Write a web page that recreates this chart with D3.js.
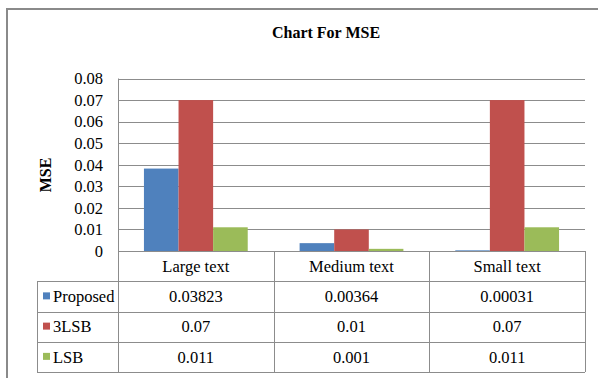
<!DOCTYPE html>
<style>
body { margin: 0; background: #fff; }
</style>
<svg width="598" height="378"></svg>
<script src="https://d3js.org/d3.v7.min.js"></script>
<script>
var categories = ["Large text", "Medium text", "Small text"];
var seriesNames = ["Proposed", "3LSB", "LSB"];
var proposed = [0.03823, 0.00364, 0.00031];
var lsb3 = [0.07, 0.01, 0.07];
var lsb = [0.011, 0.001, 0.011];
var yTicks = [0, 0.01, 0.02, 0.03, 0.04, 0.05, 0.06, 0.07, 0.08];

var colors = ["#4F81BD", "#C0504D", "#9BBB59"];
var values = [proposed, lsb3, lsb];

var svg = d3.select("svg");
var gridColor = "#8c8c8c";
var font = "Liberation Serif";
var fs = 16.5;

function label(parent) {
  return parent.append("text")
      .attr("font-family", font)
      .attr("font-size", fs)
      .attr("fill", "#000");
}

// outer chart border
svg.append("rect")
    .attr("x", 7).attr("y", 9)
    .attr("width", 610).attr("height", 390)
    .attr("fill", "none")
    .attr("stroke", "#8a8a8a")
    .attr("stroke-width", 2);

label(svg)
    .attr("x", 326).attr("y", 38)
    .attr("text-anchor", "middle")
    .attr("font-size", 16)
    .attr("font-weight", "bold")
    .text("Chart For MSE");

var plotLeft = 118, plotRight = 585, plotTop = 78.5, plotBottom = 251;

var x0 = d3.scaleBand()
    .domain(categories)
    .range([plotLeft, plotRight]);

var x1 = d3.scaleBand()
    .domain(seriesNames)
    .range([0, x0.bandwidth()])
    .paddingOuter(0.75);

var y = d3.scaleLinear()
    .domain([0, 0.08])
    .range([plotBottom, plotTop]);

// gridlines
svg.append("g")
  .selectAll("line")
  .data(yTicks)
  .enter().append("line")
    .attr("x1", plotLeft).attr("x2", plotRight)
    .attr("y1", function(d) { return Math.round(y(d)) + 0.5; })
    .attr("y2", function(d) { return Math.round(y(d)) + 0.5; })
    .attr("stroke", gridColor);

// tick labels
yTicks.forEach(function(t) {
  label(svg)
      .attr("x", 103)
      .attr("y", y(t))
      .attr("dy", "0.35em")
      .attr("text-anchor", "end")
      .text(t === 0 ? "0" : t.toFixed(2));
});

label(svg)
    .attr("transform", "translate(51,175) rotate(-90)")
    .attr("text-anchor", "middle")
    .attr("font-size", 16)
    .attr("font-weight", "bold")
    .text("MSE");

// bars
var groups = svg.append("g")
  .selectAll("g")
  .data(categories)
  .enter().append("g")
    .attr("transform", function(d) { return "translate(" + x0(d) + ",0)"; });

groups.selectAll("rect")
  .data(function(c, ci) {
    return seriesNames.map(function(s, si) { return {key: s, value: values[si][ci], color: colors[si]}; });
  })
  .enter().append("rect")
    .attr("x", function(d) { return x1(d.key); })
    .attr("width", x1.bandwidth())
    .attr("y", function(d) { return y(d.value); })
    .attr("height", function(d) { return plotBottom - y(d.value); })
    .attr("fill", function(d) { return d.color; });

// data table
var tableLeft = 37, tableBottom = 372;
var rows = d3.scaleBand()
    .domain(["cat"].concat(seriesNames))
    .range([plotBottom, tableBottom]);

var tg = svg.append("g").attr("stroke", gridColor);
seriesNames.forEach(function(s) {
  var yy = Math.round(rows(s)) + 0.5;
  tg.append("line").attr("x1", tableLeft).attr("x2", plotRight).attr("y1", yy).attr("y2", yy);
});
tg.append("line").attr("x1", tableLeft).attr("x2", plotRight)
    .attr("y1", tableBottom + 0.5).attr("y2", tableBottom + 0.5);
tg.append("line").attr("x1", plotLeft).attr("x2", plotRight)
    .attr("y1", plotBottom + 0.5).attr("y2", plotBottom + 0.5);
tg.append("line").attr("x1", tableLeft + 0.5).attr("x2", tableLeft + 0.5)
    .attr("y1", rows(seriesNames[0])).attr("y2", tableBottom);
tg.append("line").attr("x1", plotLeft + 0.5).attr("x2", plotLeft + 0.5)
    .attr("y1", plotTop).attr("y2", tableBottom);
categories.forEach(function(c) {
  var xx = Math.round(x0(c) + x0.bandwidth()) + 0.5;
  tg.append("line").attr("x1", xx).attr("x2", xx)
      .attr("y1", plotBottom).attr("y2", tableBottom);
});

// category labels
categories.forEach(function(c) {
  label(svg)
      .attr("x", x0(c) + x0.bandwidth() / 2)
      .attr("y", rows("cat") + rows.bandwidth() / 2)
      .attr("dy", "0.35em")
      .attr("text-anchor", "middle")
      .text(c);
});

// legend keys + values
seriesNames.forEach(function(s, si) {
  var cy = rows(s) + rows.bandwidth() / 2;
  svg.append("rect")
      .attr("x", 43).attr("y", cy - 4)
      .attr("width", 7).attr("height", 7)
      .attr("fill", colors[si]);
  label(svg)
      .attr("x", 53).attr("y", cy)
      .attr("dy", "0.35em")
      .text(s);
  categories.forEach(function(c, ci) {
    label(svg)
        .attr("x", x0(c) + x0.bandwidth() / 2)
        .attr("y", cy)
        .attr("dy", "0.35em")
        .attr("text-anchor", "middle")
        .text(String(values[si][ci]));
  });
});
</script>
